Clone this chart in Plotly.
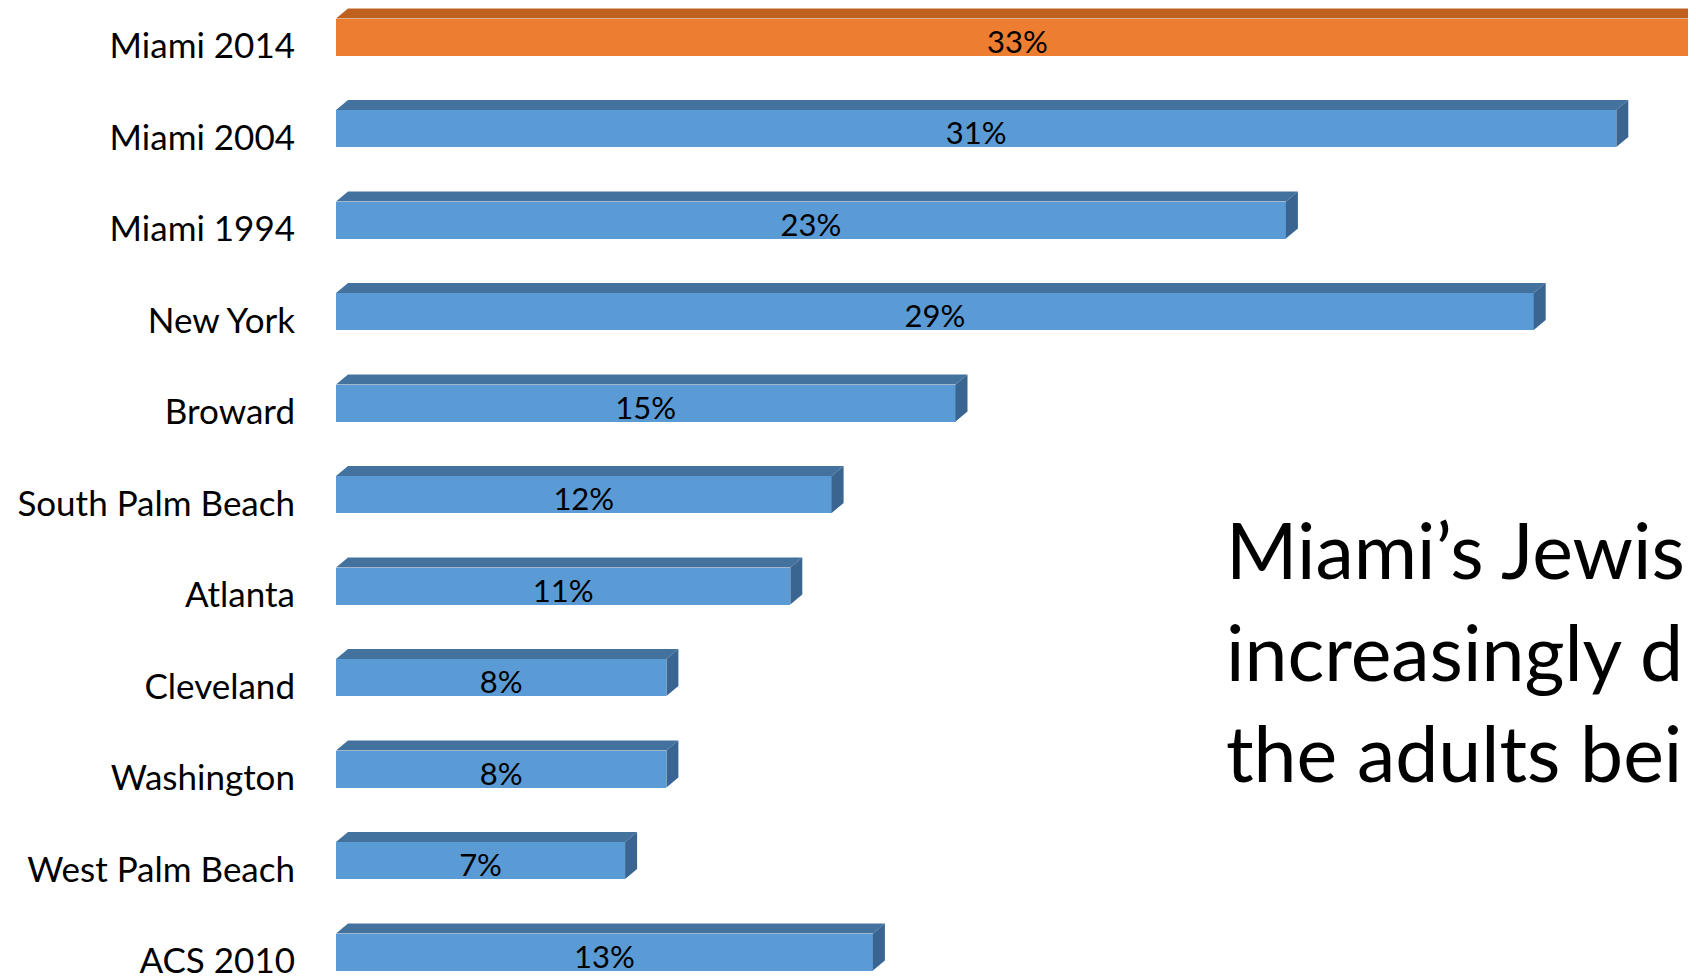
import plotly.graph_objects as go

# ---- data ----
categories = ["Miami 2014", "Miami 2004", "Miami 1994", "New York", "Broward",
              "South Palm Beach", "Atlanta", "Cleveland", "Washington",
              "West Palm Beach", "ACS 2010"]
values = [33, 31, 23, 29, 15, 12, 11, 8, 8, 7, 13]
highlight = ["Miami 2014"]
headline_lines = ["Miami’s Jewis", "increasingly d", "the adults bei"]

# ---- styling (page has an 8px body margin, so figure coords = page - 8) ----
OFF = 8
W, H = 1696 - OFF, 979 - OFF
L = 336 - OFF
px_per_unit_x = 41.3
row_px = 91.5
first_row_px = 37 - OFF
bar_w = 37 / row_px          # front face thickness in category units
dx = 12 / px_per_unit_x      # depth offset (x)
dy = 10 / row_px             # depth offset (y, upward)

FRONT_BLUE, TOP_BLUE, SIDE_BLUE = "#5B9BD5", "#44729E", "#3A6591"
FRONT_OR, TOP_OR, SIDE_OR = "#ED7D31", "#C0601F", "#B5561A"

ys = list(range(len(categories)))
is_hl = [c in highlight for c in categories]

fig = go.Figure()

# front faces
fig.add_trace(go.Bar(
    x=values, y=ys, orientation="h", width=bar_w,
    marker=dict(color=[FRONT_OR if h else FRONT_BLUE for h in is_hl], line=dict(width=0)),
    hoverinfo="skip", showlegend=False,
))

def faces(sel, kind):
    xs, yy = [], []
    for y, v, h in zip(ys, values, is_hl):
        if h != sel:
            continue
        top = y - bar_w / 2
        bot = y + bar_w / 2
        if kind == "top":
            px_ = [0, v, v + dx, dx, 0]
            py_ = [top, top, top - dy, top - dy, top]
        else:
            px_ = [v, v + dx, v + dx, v, v]
            py_ = [top, top - dy, bot - dy, bot, top]
        xs += px_ + [None]
        yy += py_ + [None]
    return xs, yy

for sel, top_c, side_c in [(False, TOP_BLUE, SIDE_BLUE), (True, TOP_OR, SIDE_OR)]:
    for kind, col in [("top", top_c), ("side", side_c)]:
        fx, fy = faces(sel, kind)
        fig.add_trace(go.Scatter(
            x=fx, y=fy, mode="lines", fill="toself", fillcolor=col,
            line=dict(width=0, color=col), hoverinfo="skip", showlegend=False,
        ))

# value labels
fig.add_trace(go.Scatter(
    x=[v / 2 for v in values], y=[y + 0.09 for y in ys], mode="text",
    text=[f"{v}%" for v in values], textposition="middle center",
    textfont=dict(family="Lato", size=31, color="#000000"),
    hoverinfo="skip", showlegend=False, cliponaxis=False,
))

x_max = (W - L) / px_per_unit_x
y_top = -first_row_px / row_px
y_bot = (H - first_row_px) / row_px

fig.update_layout(
    width=W, height=H,
    margin=dict(l=L, r=0, t=0, b=0, pad=0),
    paper_bgcolor="white", plot_bgcolor="white",
    bargap=0,
    xaxis=dict(range=[0, x_max], showgrid=False, zeroline=False, automargin=False,
               showticklabels=False, showline=False, ticks=""),
    yaxis=dict(range=[y_bot, y_top], showgrid=False, zeroline=False, automargin=False,
               showline=False, ticks="",
               tickvals=[y + 0.1 for y in ys], ticktext=categories,
               tickfont=dict(family="Lato", size=35, color="#000000"),
               ticklabelstandoff=40, ticklabeloverflow="allow"),
)

line_px = [541, 643, 744]
for txt, ypx in zip(headline_lines, line_px):
    fig.add_annotation(
        text=txt, xref="paper", yref="paper",
        x=(1216 - L) / (W - L), y=1 - ypx / H,
        xanchor="left", yanchor="middle", showarrow=False,
        font=dict(family="Lato", size=77, color="#000000"),
    )

fig.write_html("out.html")
